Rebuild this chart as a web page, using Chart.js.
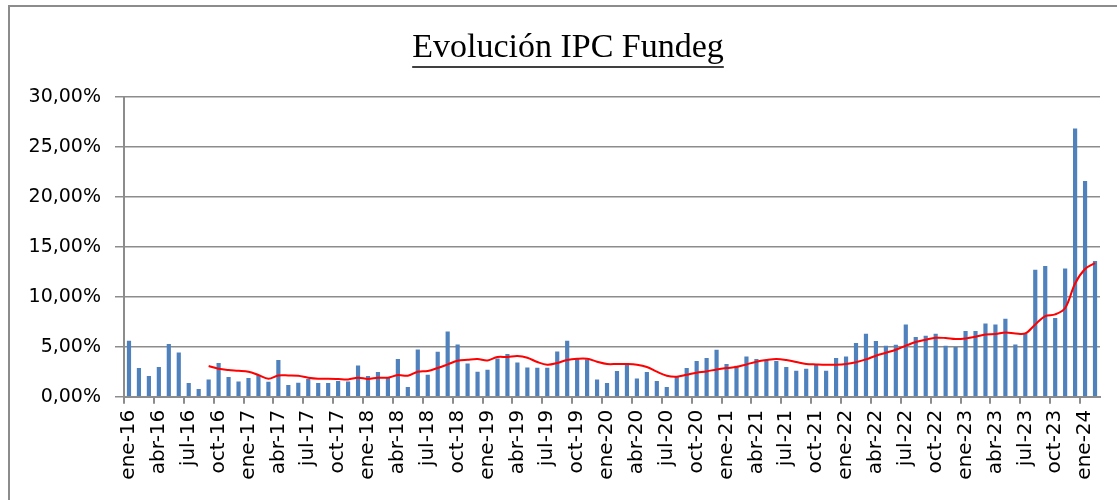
<!DOCTYPE html>
<html>
<head>
<meta charset="utf-8">
<script src="https://cdn.jsdelivr.net/npm/chart.js@4.4.1/dist/chart.umd.min.js"></script>
<style>
html,body{margin:0;padding:0;background:#fff;}
#wrap{width:1117px;height:500px;position:relative;}
</style>
</head>
<body>
<div id="wrap"><canvas id="c" width="1117" height="500"></canvas></div>
<script>
const monthNames = ['ene','feb','mar','abr','may','jun','jul','ago','sep','oct','nov','dic'];
const years = ['16','17','18','19','20','21','22','23','24'];
const categories = [];
years.forEach(y => monthNames.forEach(m => categories.push(m + '-' + y)));
categories.length = 98; // ene-16 .. feb-24

// IPC mensual (%)
const ipcMensual = [
  5.6, 2.87, 2.07, 2.97, 5.27, 4.43, 1.37, 0.77, 1.73, 3.37, 1.97, 1.53,
  1.87, 2.17, 1.5, 3.67, 1.17, 1.4, 1.77, 1.37, 1.37, 1.57, 1.53, 3.13,
  2.07, 2.47, 1.9, 3.77, 0.97, 4.73, 2.2, 4.5, 6.53, 5.23, 3.33, 2.5,
  2.7, 3.83, 4.27, 3.43, 2.93, 2.9, 2.9, 4.53, 5.6, 3.77, 3.73, 1.73,
  1.37, 2.57, 3.23, 1.83, 2.47, 1.57, 0.97, 2.03, 2.87, 3.57, 3.87, 4.7,
  3.27, 3.1, 4.03, 3.77, 3.67, 3.57, 2.97, 2.6, 2.8, 3.17, 2.6, 3.87,
  4.03, 5.37, 6.3, 5.57, 5.1, 5.2, 7.23, 5.97, 6.1, 6.3, 5.1, 4.97,
  6.57, 6.57, 7.33, 7.23, 7.8, 5.23, 6.37, 12.7, 13.07, 7.87, 12.83, 26.83,
  21.57, 13.57
];

// Tendencia (línea roja)
const tendencia = [
  null, null, null, null, null, null, null, null, 3.07, 2.8, 2.67, 2.6,
  2.5, 2.17, 1.8, 2.13, 2.13, 2.1, 1.9, 1.8, 1.8, 1.77, 1.73, 1.9,
  1.77, 1.9, 1.9, 2.17, 2.1, 2.5, 2.57, 2.87, 3.23, 3.6, 3.7, 3.77,
  3.63, 3.97, 3.97, 4.07, 3.9, 3.47, 3.2, 3.37, 3.67, 3.8, 3.8, 3.5,
  3.27, 3.27, 3.27, 3.2, 2.97, 2.5, 2.1, 2.0, 2.2, 2.4, 2.53, 2.73,
  2.87, 2.97, 3.23, 3.5, 3.67, 3.77, 3.67, 3.47, 3.27, 3.23, 3.2, 3.2,
  3.27, 3.45, 3.73, 4.1, 4.4, 4.7, 5.1, 5.47, 5.7, 5.9, 5.87, 5.77,
  5.83, 6.0, 6.23, 6.27, 6.43, 6.33, 6.33, 7.23, 8.07, 8.23, 8.87, 11.33,
  12.77, 13.37
];

const yMin = 0, yMax = 30, yStep = 5;
const titleText = 'Evolución IPC Fundeg';
const titleCenterX = 568;

const frameGrey = '#8c8c8c';

const framePlugin = {
  id: 'frame',
  afterLayout(chart) {
    const tb = chart.titleBlock;
    if (tb) tb.left = 2 * titleCenterX - tb.right;
  },
  beforeDraw(chart) {
    const ctx = chart.ctx;
    ctx.save();
    ctx.fillStyle = '#ffffff';
    ctx.fillRect(0, 0, chart.width, chart.height);
    ctx.strokeStyle = frameGrey;
    ctx.lineWidth = 2;
    ctx.beginPath();
    ctx.moveTo(9, chart.height + 2);
    ctx.lineTo(9, 6);
    ctx.lineTo(chart.width + 2, 6);
    ctx.stroke();
    ctx.restore();
  }
};

const underlinePlugin = {
  id: 'underline',
  afterDraw(chart) {
    const tb = chart.titleBlock;
    if (!tb) return;
    const opts = tb.options;
    const ctx = chart.ctx;
    ctx.save();
    ctx.font = 'normal ' + opts.font.size + 'px ' + opts.font.family;
    const w = ctx.measureText(titleText).width;
    const cx = (tb.left + tb.right) / 2;
    const mid = tb.top + opts.padding.top + opts.font.size * 1.2 / 2;
    const y = mid + opts.font.size * 0.34 + 7;
    ctx.strokeStyle = '#000';
    ctx.lineWidth = 1.5;
    ctx.beginPath();
    ctx.moveTo(cx - w / 2, y);
    ctx.lineTo(cx + w / 2, y);
    ctx.stroke();
    ctx.restore();
  }
};

new Chart(document.getElementById('c'), {
  type: 'bar',
  data: {
    labels: categories,
    datasets: [
      {
        type: 'line',
        data: tendencia,
        borderColor: '#ff0000',
        borderWidth: 2,
        pointRadius: 0,
        tension: 0.35,
        fill: false,
        order: 0
      },
      {
        type: 'bar',
        data: ipcMensual,
        backgroundColor: '#4f81bd',
        categoryPercentage: 1,
        barPercentage: 0.42,
        order: 1
      }
    ]
  },
  options: {
    responsive: false,
    animation: false,
    devicePixelRatio: 1,
    layout: { padding: { left: 16, right: 17, top: 0, bottom: 0 } },
    plugins: {
      legend: { display: false },
      tooltip: { enabled: false },
      title: {
        display: true,
        text: titleText,
        color: '#000',
        font: { family: 'Liberation Serif', size: 34, weight: 'normal', lineHeight: 1.2 },
        padding: { top: 28, bottom: 28 }
      }
    },
    scales: {
      x: {
        offset: true,
        grid: {
          display: true,
          drawOnChartArea: false,
          drawTicks: true,
          tickLength: 7,
          offset: true,
          lineWidth: 2,
          color: (ctx) => (ctx.index % 3 === 0 ? frameGrey : 'rgba(0,0,0,0)')
        },
        border: { display: true, color: frameGrey, width: 2 },
        ticks: {
          autoSkip: false,
          maxRotation: 90,
          minRotation: 90,
          padding: 6,
          color: '#000',
          font: { family: 'DejaVu Sans', size: 20 },
          callback: (v, i) => (i % 3 === 0 ? categories[i] : '')
        },
        afterFit: (s) => { s.height = 103.3; s.paddingLeft = 0; s.paddingRight = 0; }
      },
      y: {
        min: yMin,
        max: yMax,
        grid: { color: frameGrey, lineWidth: 1.5, tickLength: 9, drawTicks: true },
        border: { display: true, color: frameGrey, width: 2 },
        ticks: {
          stepSize: yStep,
          padding: 14,
          color: '#000',
          font: { family: 'DejaVu Sans', size: 19 },
          callback: (v) => v.toFixed(2).replace('.', ',') + '%'
        },
        afterFit: (s) => { s.width = 108; }
      }
    }
  },
  plugins: [framePlugin, underlinePlugin]
});
</script>
</body>
</html>
